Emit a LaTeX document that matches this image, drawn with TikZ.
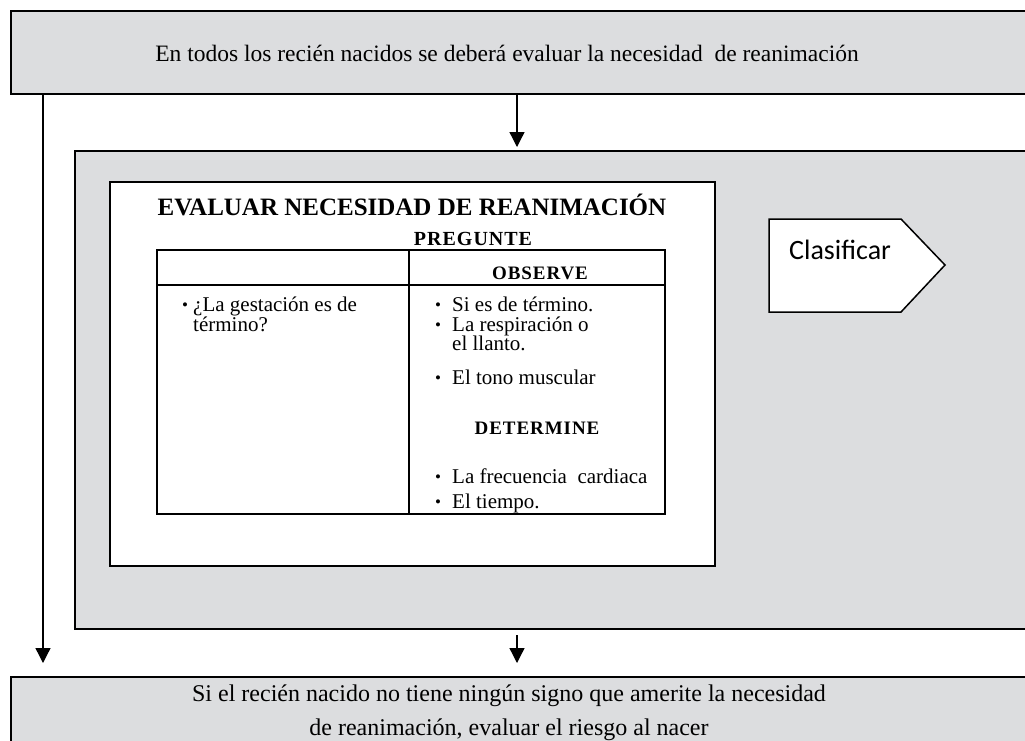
\documentclass[tikz,border=0pt]{standalone}
\usepackage{fontspec}
\setmainfont{Liberation Serif}
\newfontfamily\calibri{Carlito}
\usetikzlibrary{arrows.meta}
\definecolor{panelgray}{RGB}{220,221,223}
\tikzset{
  graybox/.style={draw, line width=2.3pt, fill=panelgray, inner sep=0pt, anchor=north west},
  whitebox/.style={draw, line width=2pt, fill=white, inner sep=0pt, anchor=north west},
  flow/.style={line width=1.3pt, -{Triangle[width=15pt,length=15pt]}},
  txt/.style={inner sep=0pt, anchor=base west, font=\fontsize{21}{20}\selectfont},
  dot/.style={inner sep=0pt, anchor=base west, font=\fontsize{17}{20}\selectfont},
  head/.style={inner sep=0pt, anchor=base, font=\fontsize{19}{22}\selectfont\bfseries\addfontfeature{LetterSpace=5}},
  big/.style={inner sep=0pt, anchor=base, font=\fontsize{23.5}{28}\selectfont},
}
\begin{document}
\begin{tikzpicture}[x=1pt,y=-1pt]
\useasboundingbox (0,0) rectangle (1025,740);
\clip (0,0) rectangle (1025,740);

% Boxes
\node[graybox, minimum width=1040pt, minimum height=83pt] (top) at (10,10) {};
\node[big] (toptext) at (507,61.5) {En todos los recién nacidos se deberá evaluar la necesidad\ \ de reanimación};

\node[graybox, minimum width=966pt, minimum height=478pt] (panel) at (74,150) {};
\node[whitebox, minimum width=605pt, minimum height=384pt] (card) at (109,181) {};

\node[graybox, minimum width=1030pt, minimum height=90pt] (bottom) at (10,676) {};
\node[big, font=\fontsize{24}{28}\selectfont] (botone) at (509,701) {Si el recién nacido no tiene ningún signo que amerite la necesidad};
\node[big, font=\fontsize{24}{28}\selectfont] (bottwo) at (509,735) {de reanimación, evaluar el riesgo al nacer};

% Title of the card
\node[inner sep=0pt, anchor=base, font=\fontsize{25}{30}\selectfont\bfseries] (title) at (412,215) {EVALUAR NECESIDAD DE REANIMACIÓN};
\node[head, font=\fontsize{20}{22}\selectfont\bfseries\addfontfeature{LetterSpace=5}] (ask) at (473,245) {PREGUNTE};

% Table
\draw[line width=2pt] (157,250) rectangle (665,514);
\draw[line width=2pt] (157,285) -- (665,285);
\draw[line width=2pt] (409,250) -- (409,514);
\node[head] (observe) at (540,279) {OBSERVE};
\node[head] (determine) at (537,434) {DETERMINE};

% Left column
\node[dot] (bq) at (182,310) {\textbullet};
\node[txt] (qone) at (193,311) {¿La gestación es de};
\node[txt] (qtwo) at (193,331) {término?};

% Right column
\foreach \yb in {311,331,384,483,508}
  \node[dot] (b\yb) at (435,\yb-1) {\textbullet};
\node[txt] (oone) at (452,311) {Si es de término.};
\node[txt] (otwo) at (452,331) {La respiración o};
\node[txt] (othree) at (452,350) {el llanto.};
\node[txt] (ofour) at (452,384) {El tono muscular};
\node[txt] (done) at (452,483) {La frecuencia\ \ cardiaca};
\node[txt] (dtwo) at (452,508) {El tiempo.};

% Clasificar tag
\draw[line width=1.5pt, fill=white] (769,219) -- (901,219) -- (945,265) -- (901,312) -- (769,312) -- cycle;
\node[inner sep=0pt, anchor=base west, font=\calibri\fontsize{28}{32}\selectfont] (classify) at (789,259) {Clasificar};

% Arrows
\coordinate (lsplit) at ([xshift=33pt]top.south west);
\coordinate (mid) at (517,0);
\draw[flow, shorten >=13pt] (lsplit) -- (lsplit |- bottom.north);
\draw[flow, shorten >=3pt] (top.south -| mid) -- (panel.north -| mid);
\draw[flow, shorten <=5pt, shorten >=13pt] (panel.south -| mid) -- (bottom.north -| mid);

\end{tikzpicture}
\end{document}
